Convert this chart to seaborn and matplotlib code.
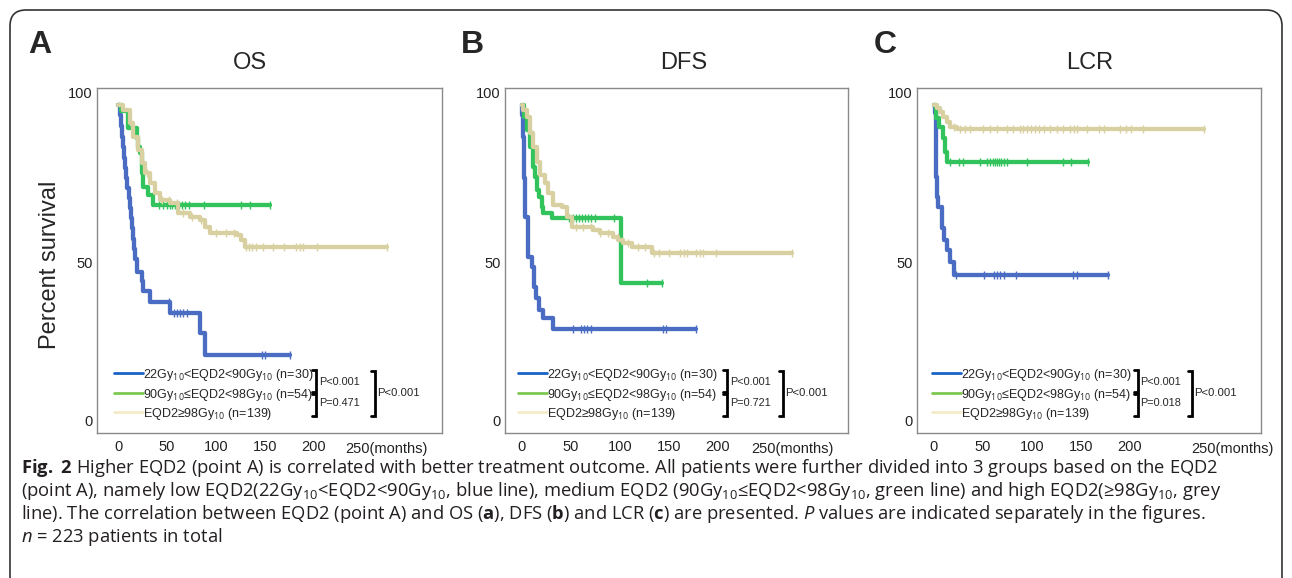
import numpy as np
import matplotlib
matplotlib.use('Agg')
import matplotlib.pyplot as plt
from matplotlib.patches import FancyBboxPatch
import seaborn as sns

sns.set_style('white')
plt.rcParams['font.family'] = ['Liberation Sans', 'DejaVu Sans']
plt.rcParams['mathtext.fontset'] = 'custom'
plt.rcParams['mathtext.rm'] = 'Open Sans'
plt.rcParams['mathtext.it'] = 'Open Sans:italic'
plt.rcParams['mathtext.bf'] = 'Open Sans:bold'

# ---- data (months, percent survival) ----
# OS
os_low_t = [0, 2, 3, 4, 5, 6, 7, 8, 9.5, 11, 12, 13, 14, 15, 16, 17, 19, 24, 26, 33, 53, 84, 89, 175]
os_low_s = [100, 96.7, 93.3, 90, 86.7, 83.3, 80, 76.7, 73.8, 70.5, 67.3, 64, 60.8, 57.5, 54.3, 51, 47.1, 44.1, 40.8, 37.6, 33.9, 27.5, 20.6, 20.6]
os_low_c = [52, 57, 60, 63, 66, 70, 147, 150, 175]
os_mid_t = [0, 3, 10.5, 19, 20.7, 22.4, 24, 26, 31, 36, 155]
os_mid_s = [100, 98.1, 92.6, 89.5, 86.8, 84.7, 78.3, 74.1, 71.4, 68.3, 68.3]
os_mid_c = [42, 46, 50, 53, 55, 58, 60, 62, 65, 68, 72, 88, 125, 135, 155]
os_high_t = [0, 5.4, 12.2, 15.6, 20.7, 24.2, 27.6, 32.7, 37.8, 42.9, 53, 61.6, 73.5, 83.7, 88.8, 93.9, 121, 126, 129.6, 274]
os_high_s = [100, 98.4, 94.2, 89.9, 85.7, 81.5, 78.3, 75.1, 72, 69.8, 68.8, 65.6, 64.5, 63.5, 61.4, 59.3, 58.7, 57.1, 55, 55]
os_high_c = [30, 45, 52, 60, 66, 75, 85, 100, 110, 118, 131, 134, 137, 141, 148, 158, 169, 182, 186, 189, 203, 274]

# DFS
dfs_low_t = [0, 0.5, 1, 1.5, 2, 2.5, 3.1, 6.5, 9.9, 12.2, 14.3, 17.7, 21.8, 32, 178]
dfs_low_s = [100, 96.7, 93.3, 90, 83.3, 76.7, 64.5, 51.8, 48.7, 42.3, 38.7, 34.9, 32.3, 28.9, 28.9]
dfs_low_c = [52, 60, 63, 66, 70, 144, 147, 178]
dfs_mid_t = [0, 2, 4.8, 8.2, 11.6, 13.3, 15, 17.7, 20, 21.8, 30.3, 100.7, 142.5]
dfs_mid_s = [100, 96.3, 92, 86.8, 80.4, 77, 73, 70.9, 67.7, 65.6, 64, 43.4, 43.4]
dfs_mid_c = [48, 52, 55, 58, 61, 64, 67, 70, 74, 94, 128, 142.5]
dfs_high_t = [0, 1.4, 4.8, 8.2, 11.6, 15, 18.4, 23.5, 26.9, 32, 40.5, 45.6, 50.7, 72.8, 79.6, 93.2, 98.3, 103.4, 111.9, 132.3, 275]
dfs_high_s = [100, 98.4, 96.3, 91, 86.8, 82, 77.8, 75.1, 72, 68.3, 67.7, 64.5, 61.4, 60.3, 59.3, 58.2, 57.1, 56.1, 55, 52.9, 52.9]
dfs_high_c = [55, 62, 70, 80, 88, 98, 108, 118, 125, 135, 140, 150, 161, 165, 168, 178, 182, 185, 198, 275]

# LCR
lcr_low_t = [0, 1, 2, 2.5, 3, 4.4, 7.8, 10.5, 13.6, 16.3, 20.4, 178]
lcr_low_s = [100, 97.4, 87, 77, 70.9, 67.7, 60.8, 57.1, 54, 50.3, 46, 46]
lcr_low_c = [22, 51, 61, 64, 67, 71, 84, 142, 146, 178]
lcr_mid_t = [0, 2, 5.4, 8.8, 11.2, 12.9, 157.5]
lcr_mid_s = [100, 95.8, 93.1, 89.4, 85.2, 82, 82]
lcr_mid_c = [16, 25, 30, 47, 54, 57, 60, 62, 64, 66, 68, 71, 74, 95, 132, 140, 157.5]
lcr_high_t = [0, 3, 6.1, 9.5, 12.9, 16.3, 23.1, 275]
lcr_high_s = [100, 98.9, 97.9, 96.3, 94.7, 93.1, 92.3, 92.3]
lcr_high_c = [20, 27, 32, 37, 50, 57, 64, 74, 81, 88, 91, 95, 99, 103, 107, 112, 118, 125, 132,
              139, 143, 146, 156, 168, 173, 190, 196, 201, 213, 275]

titles = ['OS', 'DFS', 'LCR']
letters = ['A', 'B', 'C']
labels = [r'22Gy$_{10}$<EQD2<90Gy$_{10}$ (n=30)',
          r'90Gy$_{10}$≤EQD2<98Gy$_{10}$ (n=54)',
          r'EQD2≥98Gy$_{10}$ (n=139)']
p_pairs = [['P<0.001', 'P=0.471'], ['P<0.001', 'P=0.721'], ['P<0.001', 'P=0.018']]
p_all = ['P<0.001', 'P<0.001', 'P<0.001']
xticks = [0, 50, 100, 150, 200]

curve_cols = ['#4a6cc2', '#33c35c', '#d8d0a0']
legend_cols = ['#1a63c4', '#7dc84f', '#f4ebc9']

panels = [
    [(os_low_t, os_low_s, os_low_c), (os_mid_t, os_mid_s, os_mid_c), (os_high_t, os_high_s, os_high_c)],
    [(dfs_low_t, dfs_low_s, dfs_low_c), (dfs_mid_t, dfs_mid_s, dfs_mid_c), (dfs_high_t, dfs_high_s, dfs_high_c)],
    [(lcr_low_t, lcr_low_s, lcr_low_c), (lcr_mid_t, lcr_mid_s, lcr_mid_c), (lcr_high_t, lcr_high_s, lcr_high_c)],
]

W, H = 1292, 578
fig = plt.figure(figsize=(W / 100, H / 100), dpi=100)

# outer rounded border
fig.patches.append(FancyBboxPatch((0.10, -0.3), 12.72, 5.98, boxstyle='round,pad=0,rounding_size=0.16',
                                  transform=fig.dpi_scale_trans, fill=False, ec='#333333', lw=1.2))

# panel frame geometry (pixels) and layout tweaks
frames = [(97, 442, 118), (505, 848, 522), (917, 1261, 934)]
top, bottom = 88, 433
title_x = [0.443, 0.522, 0.503]
letter_x = [-0.165, -0.096, -0.093]
leg_x = [0.049, 0.038, 0.044]
br_x = [0.635, 0.647, 0.642]
bo_x = [0.806, 0.810, 0.800]
months_x = [232, 234, 262]
ppm = 0.98  # pixels per month
ppp = 3.15  # pixels per percent

for k, (l, r, x0) in enumerate(frames):
    ax = fig.add_axes([l / W, 1 - bottom / H, (r - l) / W, (bottom - top) / H])
    xl = (l - x0) / ppm
    ax.set_xlim(xl, xl + (r - l) / ppm)
    ax.set_ylim(-(bottom - 420) / ppp, (420 - top) / ppp)

    for g in range(3):
        t, s, c = panels[k][g]
        sns.lineplot(x=t, y=s, drawstyle='steps-post', color=curve_cols[g], lw=3.1,
                     estimator=None, ax=ax, zorder=2 + g)
        t_arr = np.array(t)
        idx = np.searchsorted(t_arr, c, side='right') - 1
        cy = np.array(s)[np.clip(idx, 0, len(s) - 1)]
        sns.scatterplot(x=c, y=cy, marker='|', s=36, color=curve_cols[g], linewidth=1.0,
                        ax=ax, zorder=2 + g)

    for sp in ax.spines.values():
        sp.set_color('#8a8a8a')
        sp.set_linewidth(1.0)
    ax.set_xticks(xticks)
    ax.set_xticklabels([str(v) for v in xticks])
    ax.set_yticks([0, 50, 104])
    ax.set_yticklabels(['0', '50', '100'])
    ax.tick_params(axis='both', length=0, labelsize=10.5, colors='#222222')
    ax.tick_params(axis='x', pad=5)
    ax.tick_params(axis='y', pad=3)
    ax.text(months_x[k], -0.027, '250(months)', transform=ax.get_xaxis_transform(),
            ha='left', va='top', fontsize=10.5, color='#222222')

    ax.text(title_x[k], 1.072, titles[k], transform=ax.transAxes, ha='center', va='center', fontsize=17)
    ax.text(letter_x[k], 1.125, letters[k], transform=ax.transAxes, ha='center', va='center',
            fontsize=23, fontweight='bold')
    if k == 0:
        ax.text(-0.136, 0.487, 'Percent survival', transform=ax.transAxes, rotation=90,
                ha='center', va='center', fontsize=17)

    # legend
    rows = [0.174, 0.116, 0.061]
    for g in range(3):
        ax.plot([leg_x[k], leg_x[k] + 0.083], [rows[g], rows[g]], transform=ax.transAxes,
                color=legend_cols[g], lw=2.0, clip_on=False)
        ax.text(leg_x[k] + 0.083, rows[g], labels[g], transform=ax.transAxes, ha='left',
                va='center_baseline', fontsize=9)

    # brackets with p values
    bx, bo, arm = br_x[k], bo_x[k], 0.012
    for y1, y2 in [(0.183, 0.119), (0.113, 0.049)]:
        ax.plot([bx - arm, bx, bx, bx - arm], [y1, y1, y2, y2], transform=ax.transAxes,
                color='black', lw=2.0, clip_on=False, solid_joinstyle='miter')
    ax.plot([bo - arm, bo, bo, bo - arm], [0.180, 0.180, 0.049, 0.049], transform=ax.transAxes,
            color='black', lw=2.0, clip_on=False, solid_joinstyle='miter')
    ax.text(bx + 0.008, 0.148, p_pairs[k][0], transform=ax.transAxes, ha='left', va='center', fontsize=7.8)
    ax.text(bx + 0.008, 0.088, p_pairs[k][1], transform=ax.transAxes, ha='left', va='center', fontsize=7.8)
    ax.text(bo + 0.006, 0.116, p_all[k], transform=ax.transAxes, ha='left', va='center', fontsize=8.2)

# caption
cap = [r'$\mathbf{Fig.\ 2}$ Higher EQD2 (point A) is correlated with better treatment outcome. All patients were further divided into 3 groups based on the EQD2',
       r'(point A), namely low EQD2(22Gy$_{10}$<EQD2<90Gy$_{10}$, blue line), medium EQD2 (90Gy$_{10}$≤EQD2<98Gy$_{10}$, green line) and high EQD2(≥98Gy$_{10}$, grey',
       r'line). The correlation between EQD2 (point A) and OS ($\mathbf{a}$), DFS ($\mathbf{b}$) and LCR ($\mathbf{c}$) are presented. $\mathit{P}$ values are indicated separately in the figures.',
       r'$\mathit{n}$ = 223 patients in total']
for i, line in enumerate(cap):
    fig.text(21 / W, 1 - (468 + 23 * i) / H, line, ha='left', va='center', fontsize=13.2,
             family=['Open Sans', 'DejaVu Sans'], color='#231f20')

fig.savefig('out.png', dpi=100)
